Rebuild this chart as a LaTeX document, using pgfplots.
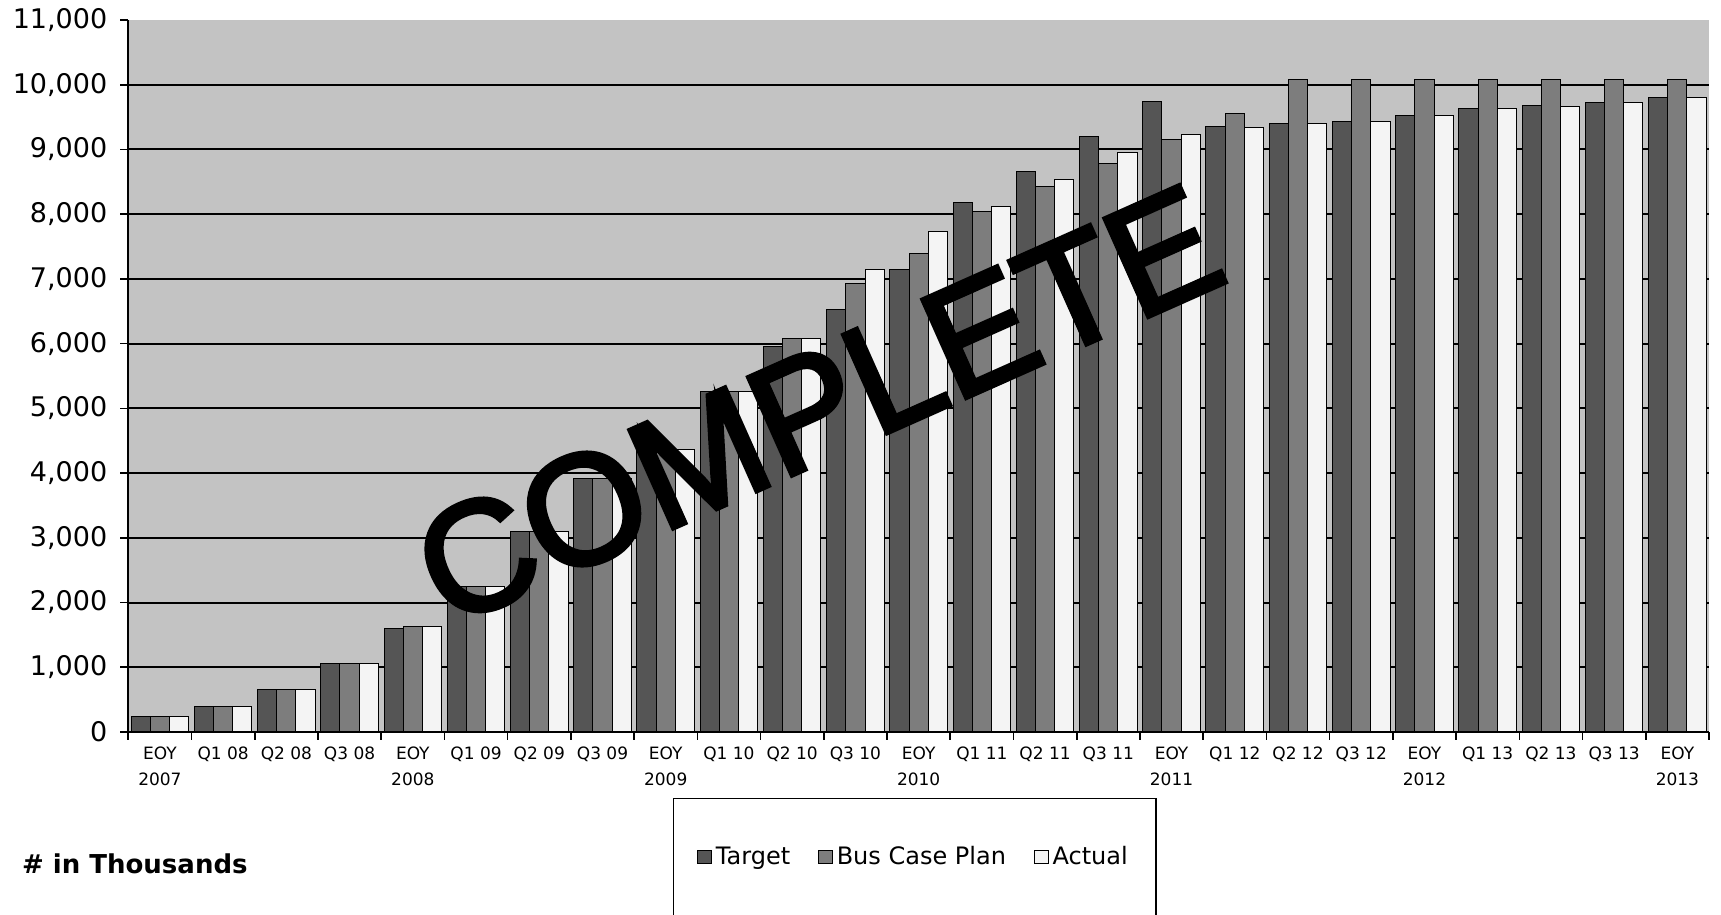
\documentclass[border=0pt]{standalone}
\usepackage{pgfplots}
\usepackage{pgfplotstable}
\pgfplotsset{compat=1.18}
\usepackage{fontspec}
\setmainfont{DejaVu Sans}
\newfontfamily\lib[FakeBold=3]{Liberation Sans}
\definecolor{bgc}{RGB}{195,195,195}
\definecolor{tgt}{RGB}{85,85,85}
\definecolor{bus}{RGB}{125,125,125}
\definecolor{act}{RGB}{244,244,244}

\pgfplotstableread{
idx target bus actual
0 240 240 240
1 400 400 400
2 650 650 650
3 1065 1065 1065
4 1595 1630 1630
5 2245 2245 2245
6 3090 3090 3090
7 3920 3920 3920
8 4660 4380 4360
9 5260 5260 5260
10 5950 6085 6085
11 6530 6930 7140
12 7150 7395 7725
13 8175 8040 8125
14 8665 8420 8530
15 9195 8790 8960
16 9735 9150 9230
17 9360 9560 9340
18 9395 10085 9395
19 9430 10085 9430
20 9520 10085 9520
21 9640 10085 9635
22 9685 10085 9670
23 9720 10085 9720
24 9805 10085 9805
}\data

\begin{document}
\begin{tikzpicture}
\path[use as bounding box] (0,0) rectangle (860.5pt,457.5pt);
\begin{axis}[
  at={(64.15pt,91.5pt)}, anchor=south west,
  scale only axis, width=790.35pt, height=356pt,
  ybar=0pt, bar width=9.6pt,
  xmin=-0.5, xmax=24.5, ymin=0, ymax=11000,
  axis x line*=bottom, axis y line*=left,
  axis line style={line width=1pt,-},
  axis background/.style={fill=bgc},
  tick align=outside,
  xtick={-0.5,0.5,...,24.5},
  x tick label as interval,
  xticklabels={{EOY\\2007},{Q1 08},{Q2 08},{Q3 08},{EOY\\2008},{Q1 09},{Q2 09},{Q3 09},{EOY\\2009},{Q1 10},{Q2 10},{Q3 10},{EOY\\2010},{Q1 11},{Q2 11},{Q3 11},{EOY\\2011},{Q1 12},{Q2 12},{Q3 12},{EOY\\2012},{Q1 13},{Q2 13},{Q3 13},{EOY\\2013}},
  xticklabel style={align=center, font=\fontsize{8.5}{13}\selectfont},
  x tick style={line width=0.8pt, black},
  major tick length=4pt,
  ytick={0,1000,...,11000},
  y tick style={line width=0.8pt, black},
  scaled y ticks=false,
  /pgf/number format/assume math mode=true,
  /pgf/number format/1000 sep={,},
  yticklabel style={font=\fontsize{13.5}{15}\selectfont, xshift=-3pt},
  extra y ticks={1000,2000,...,10000},
  extra y tick labels={},
  extra y tick style={grid=major},
  major grid style={black, line width=1pt},
  legend columns=3,
  legend style={at={(0.4974,-0.1756)}, anchor=center, draw=black, line width=0.8pt,
    inner xsep=12pt, inner ysep=22pt, font=\fontsize{12}{14}\selectfont,
    /tikz/every even column/.append style={column sep=12pt}},
  legend image code/.code={\draw[#1, line width=0.5pt] (0pt,-3.4pt) rectangle (6.8pt,3.4pt);},
]
\addplot[fill=tgt, draw=black, line width=0.5pt] table[x=idx, y=target]{\data};
\addlegendentry{Target}
\addplot[fill=bus, draw=black, line width=0.5pt] table[x=idx, y=bus]{\data};
\addlegendentry{Bus Case Plan}
\addplot[fill=act, draw=black, line width=0.5pt] table[x=idx, y=actual]{\data};
\addlegendentry{Actual}
\end{axis}
\node[anchor=west, font=\bfseries\fontsize{13}{15}\selectfont] at (7.5pt,25.5pt) {\# in Thousands};
\node[rotate=24, font=\lib\fontsize{78}{78}\selectfont] at (409pt,255pt) {COMPLETE};
\end{tikzpicture}
\end{document}
